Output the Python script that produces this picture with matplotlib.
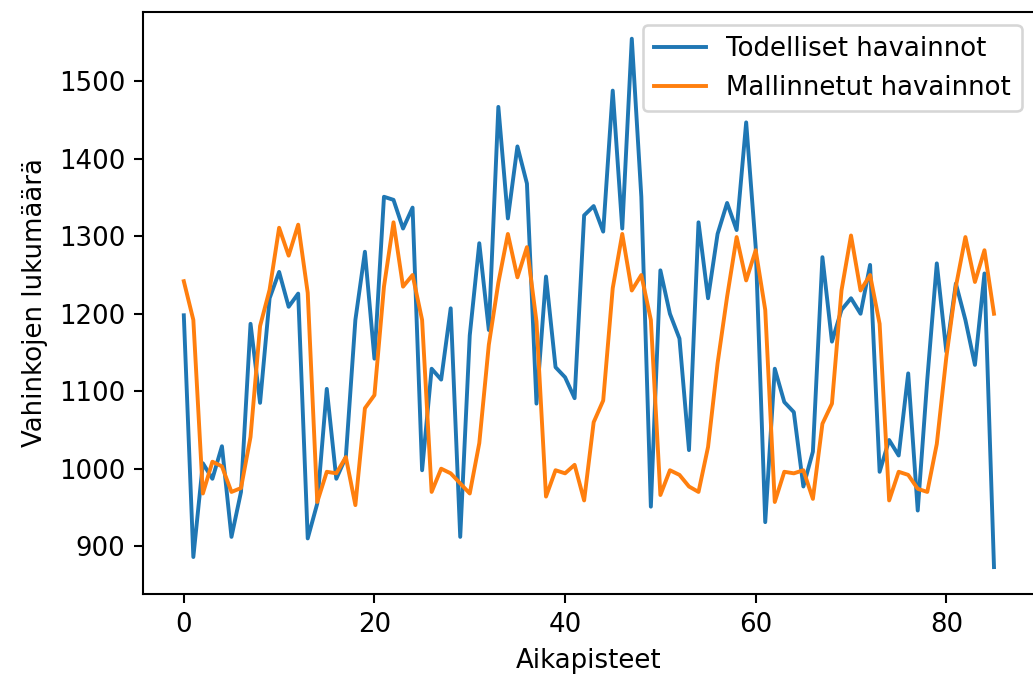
import matplotlib
matplotlib.use("Agg")
import matplotlib.pyplot as plt

# Todelliset havainnot (blue)
todelliset = [1198, 886, 1007, 987, 1029, 912, 970, 1187, 1085, 1220,
              1254, 1209, 1226, 910, 955, 1103, 987, 1015, 1192, 1280,
              1142, 1351, 1347, 1310, 1337, 998, 1129, 1115, 1207, 912,
              1172, 1291, 1179, 1467, 1323, 1416, 1368, 1084, 1248, 1131,
              1118, 1091, 1327, 1339, 1306, 1488, 1310, 1555, 1351, 951,
              1256, 1200, 1168, 1024, 1318, 1220, 1303, 1343, 1308, 1447,
              1286, 931, 1129, 1086, 1073, 977, 1022, 1273, 1164, 1205,
              1220, 1200, 1263, 996, 1037, 1017, 1123, 946, 1115, 1265,
              1151, 1239, 1192, 1134, 1252, 873]

# Mallinnetut havainnot (orange)
mallinnetut = [1242, 1192, 968, 1009, 1003, 970, 975, 1041, 1184, 1231,
               1311, 1275, 1315, 1227, 957, 996, 994, 1015, 953, 1078,
               1095, 1235, 1318, 1235, 1250, 1192, 970, 1000, 994, 981,
               968, 1033, 1160, 1240, 1303, 1247, 1286, 1190, 964, 998,
               994, 1005, 959, 1060, 1088, 1233, 1303, 1230, 1250, 1192,
               966, 998, 992, 977, 970, 1028, 1136, 1222, 1299, 1243,
               1282, 1205, 957, 996, 994, 998, 961, 1058, 1084, 1230,
               1301, 1230, 1250, 1187, 959, 996, 992, 974, 970, 1032,
               1144, 1235, 1299, 1241, 1282, 1200]

aikapisteet = list(range(len(todelliset)))

dpi = 187
fig = plt.figure(figsize=(1033 / dpi, 680 / dpi), dpi=dpi)
ax = fig.add_axes([143.3 / 1033, (680 - 593.5) / 680,
                   (1034.5 - 143.3) / 1033, (593.5 - 12.3) / 680])

ax.plot(aikapisteet, todelliset, label="Todelliset havainnot")
ax.plot(aikapisteet, mallinnetut, label="Mallinnetut havainnot")
ax.set_xlabel("Aikapisteet")
ax.set_ylabel("Vahinkojen lukumäärä")
ax.legend(loc="upper right")

fig.savefig("out.png", dpi=dpi)
